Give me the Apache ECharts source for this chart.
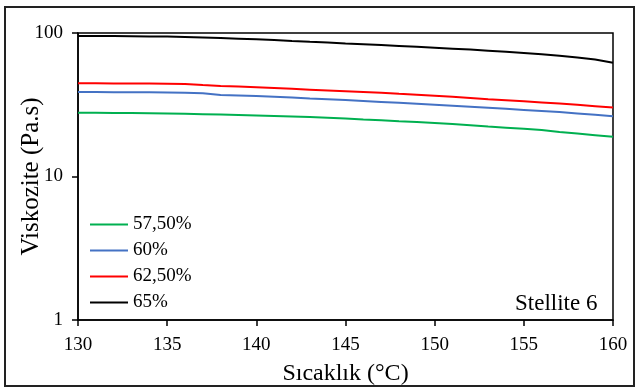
<!DOCTYPE html>
<html><head><meta charset="utf-8">
<script src="https://cdn.jsdelivr.net/npm/echarts@6/dist/echarts.min.js"></script>
<style>html,body{margin:0;padding:0;background:#fff}#c{width:638px;height:390px}</style>
</head><body><div id="c"></div>
<script>
const temps = [130,131,132,133,134,135,136,137,138,139,140,141,142,143,144,145,146,147,148,149,150,151,152,153,154,155,156,157,158,159,160];
const s5750 = [27.8,27.8,27.7,27.7,27.6,27.5,27.4,27.2,27.0,26.8,26.6,26.4,26.2,26.0,25.7,25.4,25.0,24.7,24.3,24.0,23.6,23.2,22.8,22.3,21.9,21.5,21.1,20.4,19.9,19.4,18.9];
const s60 = [38.8,38.8,38.7,38.7,38.6,38.5,38.4,38.0,37.0,36.7,36.4,36.0,35.5,35.0,34.6,34.1,33.6,33.1,32.6,32.1,31.6,31.1,30.6,30.1,29.6,29.1,28.6,28.1,27.5,26.9,26.3];
const s6250 = [44.6,44.6,44.5,44.5,44.4,44.3,44.1,43.4,42.8,42.3,41.8,41.3,40.8,40.3,39.8,39.3,38.8,38.3,37.7,37.2,36.6,36.0,35.3,34.6,34.0,33.4,32.8,32.2,31.6,30.9,30.2];
const s65 = [95.3,95.3,95.2,95.0,94.7,94.4,93.8,93.0,92.2,91.3,90.3,89.3,88.0,86.8,85.8,84.6,83.5,82.4,81.3,80.2,79.0,77.8,76.6,75.3,74.0,72.6,71.0,69.3,67.6,65.3,62.1];
const names = ['57,50%','60%','62,50%','65%'];
const colors = ['#00b050','#4472c4','#ff0000','#000000'];
const allSeries = [s5750, s60, s6250, s65];
const font = 'Liberation Serif';
const chart = echarts.init(document.getElementById('c'));
chart.setOption({
  animation:false,
  graphic:[
    {type:'rect', shape:{x:5,y:7,width:629,height:379}, style:{fill:'none', stroke:'#222', lineWidth:2}, silent:true},
    {type:'text', left:515, top:292, style:{text:'Stellite 6', font:'23px "Liberation Serif"', fill:'#000'}}
  ],
  grid:{left:78, right:25, top:33, bottom:70, outerBoundsMode:'none', containLabel:false, show:true, borderColor:'#000', borderWidth:1.5, backgroundColor:'transparent'},
  legend:{
    orient:'vertical', left:85, top:210, itemWidth:38, itemHeight:2, itemGap:7, icon:'rect',
    textStyle:{fontFamily:font, fontSize:19, lineHeight:19, color:'#000'},
    data:names
  },
  xAxis:{
    type:'value', min:130, max:160, interval:5,
    name:'Sıcaklık (°C)', nameLocation:'middle', nameGap:42, nameMoveOverlap:false,
    nameTextStyle:{fontFamily:font, fontSize:24, color:'#000'},
    axisLine:{lineStyle:{color:'#000', width:1.5}},
    axisTick:{show:true, length:6, lineStyle:{color:'#000', width:1.5}},
    axisLabel:{fontFamily:font, fontSize:19, color:'#000', margin:16},
    splitLine:{show:false}
  },
  yAxis:{
    type:'log', logBase:10, min:1, max:100,
    name:'Viskozite (Pa.s)', nameLocation:'middle', nameGap:34, nameMoveOverlap:false,
    nameTextStyle:{fontFamily:font, fontSize:25, color:'#000'},
    axisLine:{show:true, lineStyle:{color:'#000', width:1.5}},
    axisTick:{show:true, length:6, lineStyle:{color:'#000', width:1.5}},
    axisLabel:{fontFamily:font, fontSize:19, color:'#000', margin:15},
    minorTick:{show:false},
    splitLine:{show:false}
  },
  series: allSeries.map((arr,i)=>({
    name:names[i], type:'line', symbol:'none', smooth:false,
    lineStyle:{color:colors[i], width:2}, itemStyle:{color:colors[i]},
    data: temps.map((t,j)=>[t, arr[j]])
  }))
});
</script></body></html>
